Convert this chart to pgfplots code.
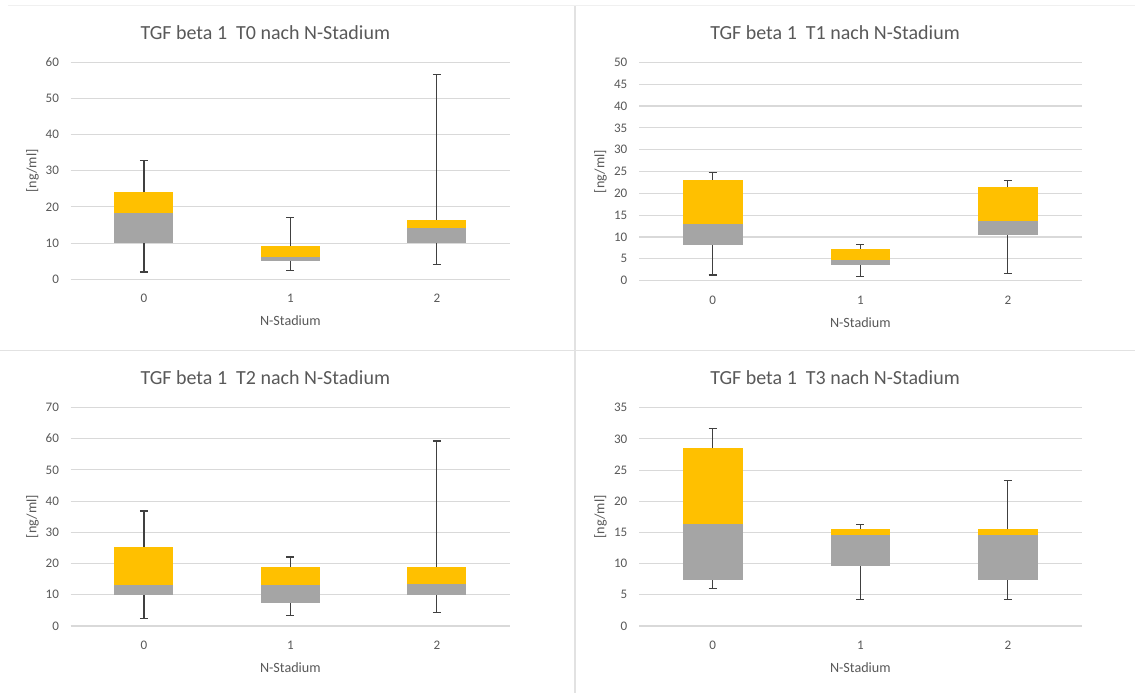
\documentclass[border=0pt]{standalone}
\usepackage{fontspec}
\setmainfont{Carlito}
\usepackage{pgfplots}
\pgfplotsset{compat=1.18}
\usepgfplotslibrary{statistics}
\definecolor{boxgray}{HTML}{A5A5A5}
\definecolor{boxgold}{HTML}{FFC000}
\definecolor{txt}{HTML}{595959}
\definecolor{gridc}{HTML}{D9D9D9}
\definecolor{whisk}{HTML}{404040}
\definecolor{sep}{HTML}{E2E2E2}

% \bx{position}{min}{Q1}{median}{Q3}{max}
\newcommand{\bx}[6]{%
  \addplot[boxplot prepared={draw position=#1, lower whisker=#3, lower quartile=#3, median=#4, upper quartile=#4, upper whisker=#4, box extend=0.403, whisker extend=0},
    draw=none,
    boxplot/every box/.style={draw=none, fill=boxgray},
    boxplot/every median/.style={draw=none},
    boxplot/every whisker/.style={draw=none}] coordinates {};
  \addplot[boxplot prepared={draw position=#1, lower whisker=#4, lower quartile=#4, median=#5, upper quartile=#5, upper whisker=#5, box extend=0.403, whisker extend=0},
    draw=none,
    boxplot/every box/.style={draw=none, fill=boxgold},
    boxplot/every median/.style={draw=none},
    boxplot/every whisker/.style={draw=none}] coordinates {};
  \addplot[boxplot prepared={draw position=#1, lower whisker=#2, lower quartile=#3, median=#4, upper quartile=#5, upper whisker=#6, box extend=0.403, whisker extend=0.055},
    draw=whisk, line width=0.9pt,
    boxplot/every box/.style={draw=none, fill=none},
    boxplot/every median/.style={draw=none}] coordinates {};
}

\pgfplotsset{
  panel/.style={
    scale only axis,
    boxplot/draw direction=y,
    xmin=-0.5, xmax=2.5, ymin=0,
    xtick={0,1,2},
    axis line style={draw=none},
    tick style={draw=none},
    major tick length=0pt,
    ymajorgrids,
    grid style={color=gridc, line width=0.8pt},
    /pgf/number format/assume math mode=true,
    ticklabel style={font=\fontsize{9.8}{11}\selectfont, text=txt},
    yticklabel style={inner sep=0pt, anchor=east, xshift=-8.6pt},
    xticklabel style={inner sep=0pt, anchor=north, yshift=-11.2pt},
    title style={at={(axis description cs:0.443,1.101)}, anchor=center, font=\fontsize{15}{18}\selectfont, text=txt},
    xlabel style={at={(axis description cs:0.5,-0.19)}, anchor=center, font=\fontsize{10.6}{12}\selectfont, text=txt},
    ylabel style={at={(axis description cs:-0.087,0.5)}, anchor=center, font=\fontsize{10.6}{12}\selectfont, text=txt},
    xlabel={N-Stadium},
    ylabel={[ng/ml]},
    anchor=south west,
  }
}

\begin{document}
\begin{tikzpicture}[x=0.75pt,y=0.75pt]
\path[use as bounding box, fill=white] (0,0) rectangle (1135,693);
\draw[color=sep!50, line width=0.75pt] (8,687) -- (1135,687);
\draw[color=sep, line width=1.2pt] (574.7,0) -- (574.7,687);
\draw[color=sep, line width=1.2pt] (0,342.3) -- (1135,342.3);

% T0
\begin{axis}[panel, at={(53.03pt,310.28pt)}, width=329.5pt, height=162.75pt,
  ymax=60, ytick distance=10,
  title={TGF beta 1\ \ T0 nach N-Stadium}]
\bx{0}{2.0}{9.9}{18.4}{24.0}{32.9}
\bx{1}{2.4}{5.0}{6.1}{9.2}{17.1}
\bx{2}{4.0}{9.9}{14.1}{16.4}{56.6}
\end{axis}

% T1
\begin{axis}[panel, at={(479.25pt,309.23pt)}, width=332pt, height=163.8pt,
  ymax=50, ytick distance=5,
  title={TGF beta 1\ \ T1 nach N-Stadium}]
\bx{0}{1.3}{8.1}{12.9}{23.1}{24.7}
\bx{1}{1.0}{3.5}{4.7}{7.3}{8.2}
\bx{2}{1.7}{10.4}{13.7}{21.4}{23.0}
\end{axis}

% T2
\begin{axis}[panel, at={(53.03pt,50.25pt)}, width=329.5pt, height=164pt,
  ymax=70, ytick distance=10,
  title={TGF beta 1\ \ T2 nach N-Stadium}]
\bx{0}{2.3}{9.8}{13.1}{25.4}{36.8}
\bx{1}{3.3}{7.3}{13.1}{19.0}{22.1}
\bx{2}{4.2}{9.8}{13.4}{19.0}{59.2}
\end{axis}

% T3
\begin{axis}[panel, at={(479.25pt,50.25pt)}, width=332pt, height=163.7pt,
  ymax=35, ytick distance=5,
  title={TGF beta 1\ \ T3 nach N-Stadium}]
\bx{0}{6.0}{7.3}{16.4}{28.5}{31.7}
\bx{1}{4.3}{9.6}{14.6}{15.5}{16.3}
\bx{2}{4.3}{7.3}{14.6}{15.5}{23.3}
\end{axis}
\end{tikzpicture}
\end{document}
